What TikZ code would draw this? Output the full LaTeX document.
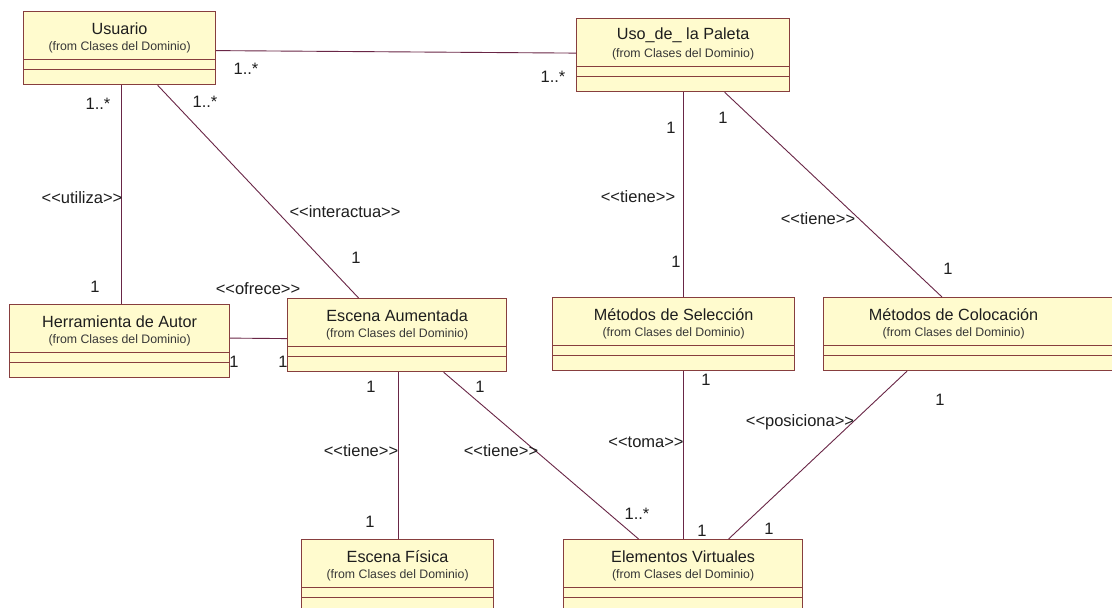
\documentclass[tikz,border=0pt]{standalone}
\usepackage{fontspec}
\newfontfamily\umlfont{Liberation Sans}
\definecolor{boxfill}{RGB}{255,251,206}
\definecolor{boxline}{RGB}{135,62,62}
\definecolor{assocline}{RGB}{105,38,70}
\definecolor{labeltext}{RGB}{30,30,30}
\definecolor{fromtext}{RGB}{55,55,55}

% one UML class: id, north-west corner, width, x offset of the texts, name
\newcommand\umlclass[5]{%
  \node[classbox, minimum width=#3] (#1) at (#2) {};
  \draw[compart] ([yshift=-48.5pt]#1.north west) -- ([yshift=-48.5pt]#1.north east);
  \draw[compart] ([yshift=-58.5pt]#1.north west) -- ([yshift=-58.5pt]#1.north east);
  \node[classname] (#1-name) at ([xshift=#4, yshift=-17.5pt]#1.north) {#5};
  \node[classfrom] (#1-from) at ([xshift=#4, yshift=-36.5pt]#1.north) {(from Clases del Dominio)};
}

\begin{document}
\begin{tikzpicture}[x=1pt, y=-1pt,
  every node/.style={font=\umlfont},
  classbox/.style={rectangle, draw=boxline, fill=boxfill, line width=1.2pt,
    minimum height=73pt, inner sep=0pt, anchor=north west},
  compart/.style={draw=boxline, line width=1.2pt},
  classname/.style={font=\umlfont\fontsize{16.2}{17}\selectfont, text=labeltext, inner sep=0pt},
  classfrom/.style={font=\umlfont\fontsize{12.3}{13}\selectfont, text=fromtext, inner sep=0pt},
  assoc/.style={draw=assocline, line width=0.9pt},
  lab/.style={font=\umlfont\fontsize{16.5}{17}\selectfont, text=labeltext, inner sep=0pt},
]
\fill[white] (0,0) rectangle (1112,608);
\useasboundingbox (0,0) rectangle (1112,608);
\clip (0,0) rectangle (1112,608);

% classes
\umlclass{usuario}{23,11}{192pt}{0pt}{Usuario}
\umlclass{paleta}{576,18}{213pt}{0pt}{Uso\_de\_ la Paleta}
\umlclass{herramienta}{9,304}{220pt}{0pt}{Herramienta de Autor}
\umlclass{aumentada}{287,298}{219pt}{0pt}{Escena Aumentada}
\umlclass{seleccion}{552,297}{242pt}{0pt}{Métodos de Selección}
\umlclass{colocacion}{823,297}{300pt}{-20pt}{Métodos de Colocación}
\umlclass{fisica}{301,539}{192pt}{0pt}{Escena Física}
\umlclass{elementos}{563,539}{239pt}{0pt}{Elementos Virtuales}

% associations
\draw[assoc] ([yshift=-2.5pt]usuario.east) -- ([yshift=2pt]paleta.west);
\draw[assoc] ([xshift=2pt]usuario.south) -- ([xshift=2pt]herramienta.north);
\draw[assoc] ([xshift=38pt]usuario.south) -- ([xshift=-38.5pt]aumentada.north);
\draw[assoc] ([yshift=3pt]herramienta.east) -- ([yshift=-3.5pt]aumentada.west);
\draw[assoc] ([xshift=0.5pt]paleta.south) -- ([xshift=10pt]seleccion.north);
\draw[assoc] ([xshift=41.5pt]paleta.south) -- ([xshift=119pt]colocacion.north west);
\draw[assoc] ([xshift=1.5pt]aumentada.south) -- ([xshift=1pt]fisica.north);
\draw[assoc] ([xshift=46.5pt]aumentada.south) -- ([xshift=-44.5pt]elementos.north);
\draw[assoc] ([xshift=10pt]seleccion.south) -- ([xshift=0.5pt]elementos.north);
\draw[assoc] ([xshift=84pt]colocacion.south west) -- ([xshift=45.5pt]elementos.north);

% multiplicities and stereotypes
\node[lab] (m1) at (246,69) {1..*};
\node[lab] (m2) at (553,77) {1..*};
\node[lab] (m3) at (98,104) {1..*};
\node[lab] (s1) at (82,198) {<<utiliza>>};
\node[lab] (m4) at (95,287) {1};
\node[lab] (m5) at (205,102) {1..*};
\node[lab] (s2) at (345,212) {<<interactua>>};
\node[lab] (m6) at (356,258) {1};
\node[lab] (s3) at (258,289) {<<ofrece>>};
\node[lab] (m7) at (234,362) {1};
\node[lab] (m8) at (283,362) {1};
\node[lab] (m9) at (671,128) {1};
\node[lab] (s4) at (638,197) {<<tiene>>};
\node[lab] (m10) at (676,262) {1};
\node[lab] (m11) at (723,118) {1};
\node[lab] (s5) at (818,219) {<<tiene>>};
\node[lab] (m12) at (948,269) {1};
\node[lab] (m13) at (371,387) {1};
\node[lab] (s6) at (361,451) {<<tiene>>};
\node[lab] (m14) at (370,522) {1};
\node[lab] (m15) at (480,387) {1};
\node[lab] (s7) at (501,451) {<<tiene>>};
\node[lab] (m16) at (637,514) {1..*};
\node[lab] (m17) at (706,380) {1};
\node[lab] (s8) at (646,442) {<<toma>>};
\node[lab] (m18) at (702,531) {1};
\node[lab] (m19) at (940,400) {1};
\node[lab] (s9) at (800,422) {<<posiciona>>};
\node[lab] (m20) at (769,529) {1};
\end{tikzpicture}
\end{document}
